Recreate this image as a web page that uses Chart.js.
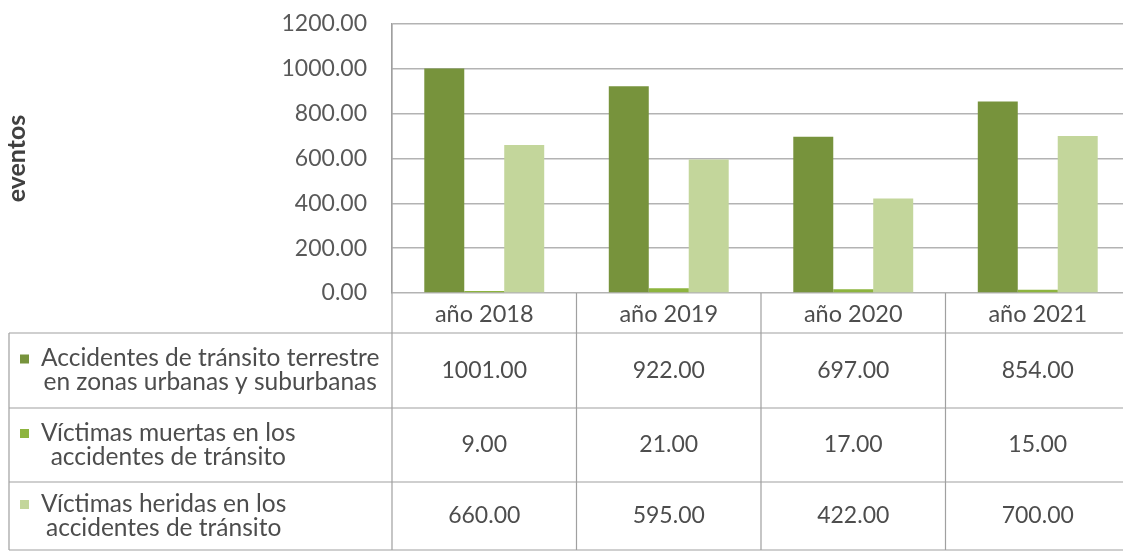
<!DOCTYPE html>
<html>
<head>
<meta charset="utf-8">
<script src="https://cdn.jsdelivr.net/npm/chart.js@4.4.0/dist/chart.umd.min.js"></script>
<style>
  html, body { margin: 0; padding: 0; background: #fff; overflow: hidden; }
  #wrap { width: 1135px; height: 552px; }
</style>
</head>
<body>
<div id="wrap"><canvas id="myChart"></canvas></div>
<script>
// categories
const years = ['año 2018', 'año 2019', 'año 2020', 'año 2021'];
// series (legend text, split the same way as in the table)
const nameAccidentes = ['Accidentes de tránsito terrestre', 'en zonas urbanas y suburbanas'];
const nameMuertas = ['Víctimas muertas en los', 'accidentes de tránsito'];
const nameHeridas = ['Víctimas heridas en los', 'accidentes de tránsito'];
const accidentes = [1001, 922, 697, 854];
const muertas = [9, 21, 17, 15];
const heridas = [660, 595, 422, 700];
// y axis
const yMin = 0, yMax = 1200, yStep = 200;
const yTitle = 'eventos';

const colors = ['#77933c', '#8db43e', '#c3d69b'];
const FONT = 'Lato, "Open Sans", sans-serif';
const textColor = '#4d4d4d';
const lineColor = '#a0a0a0';

// data table under the plot, drawn from the x scale
const tablePlugin = {
  id: 'dataTable',
  afterDraw(chart) {
    const ctx = chart.ctx;
    const x = chart.scales.x;
    const area = chart.chartArea;
    const n = years.length;
    const catW = (x.right - x.left) / n;
    const tableLeft = 9;
    const headerBottom = area.bottom + 40;
    const rowH = [75, 74, 68];
    const rows = chart.data.datasets;

    ctx.save();
    ctx.strokeStyle = lineColor;
    ctx.lineWidth = 1.2;

    // row boundaries
    let yy = headerBottom;
    const rowTops = [];
    for (let r = 0; r < rows.length; r++) {
      rowTops.push(yy);
      ctx.beginPath();
      ctx.moveTo(tableLeft, yy);
      ctx.lineTo(x.right, yy);
      ctx.stroke();
      yy += rowH[r];
    }
    const tableBottom = yy;
    ctx.beginPath();
    ctx.moveTo(tableLeft, tableBottom);
    ctx.lineTo(x.right, tableBottom);
    ctx.stroke();

    // column boundaries
    ctx.beginPath();
    ctx.moveTo(tableLeft, headerBottom);
    ctx.lineTo(tableLeft, tableBottom);
    for (let i = 0; i <= n; i++) {
      const bx = x.getPixelForValue(i) - catW / 2;
      ctx.moveTo(bx, i === 0 ? area.top : area.bottom);
      ctx.lineTo(bx, tableBottom);
    }
    ctx.stroke();

    ctx.fillStyle = textColor;
    ctx.textAlign = 'center';
    ctx.textBaseline = 'middle';

    // header
    ctx.font = '23.5px ' + FONT;
    years.forEach((lab, i) => {
      ctx.fillText(lab, x.getPixelForValue(i), (area.bottom + headerBottom) / 2 + 1);
    });

    // rows
    rows.forEach((ds, r) => {
      const cy = rowTops[r] + rowH[r] / 2;
      ctx.font = '23px ' + FONT;
      ds.data.forEach((v, i) => {
        ctx.fillStyle = textColor;
        ctx.fillText(v.toFixed(2), x.getPixelForValue(i), cy);
      });
      ctx.font = '24.5px ' + FONT;
      const lines = ds.tableLabel;
      const textLeft = 41;
      const w0 = ctx.measureText(lines[0]).width;
      const cx = textLeft + w0 / 2;
      lines.forEach((ln, k) => {
        ctx.fillStyle = textColor;
        ctx.fillText(ln, cx, cy + (k - (lines.length - 1) / 2) * 24);
      });
      ctx.fillStyle = ds.backgroundColor;
      ctx.fillRect(textLeft - 21, cy - 12 - 4, 9, 9);
    });
    ctx.restore();
  }
};

const ctx = document.getElementById('myChart').getContext('2d');
const chart = new Chart(ctx, {
  type: 'bar',
  data: {
    labels: years,
    datasets: [
      { label: nameAccidentes.join(' '), tableLabel: nameAccidentes, data: accidentes, backgroundColor: colors[0] },
      { label: nameMuertas.join(' '), tableLabel: nameMuertas, data: muertas, backgroundColor: colors[1] },
      { label: nameHeridas.join(' '), tableLabel: nameHeridas, data: heridas, backgroundColor: colors[2] }
    ]
  },
  options: {
    responsive: true,
    maintainAspectRatio: false,
    animation: false,
    layout: { padding: { left: 0, top: 24, right: 5, bottom: 259 } },
    datasets: { bar: { barPercentage: 1.0, categoryPercentage: 0.65 } },
    plugins: { legend: { display: false }, tooltip: { enabled: false } },
    scales: {
      x: { display: false },
      y: {
        min: yMin,
        max: yMax,
        afterFit(scale) {
          scale.width = 392;
          scale.paddingTop = 0;
          scale.paddingBottom = 0;
        },
        ticks: {
          stepSize: yStep,
          padding: 25,
          color: '#595959',
          font: { family: FONT, size: 23 },
          callback: v => Number(v).toFixed(2)
        },
        grid: { color: '#b3b3b3', lineWidth: 1.5, drawTicks: false },
        border: { display: true, color: lineColor, width: 1.2 },
        title: {
          display: true,
          text: yTitle,
          color: '#404040',
          font: { family: FONT, size: 25, weight: 'bold' },
          padding: { top: 2, bottom: 0 }
        }
      }
    }
  },
  plugins: [tablePlugin]
});
</script>
</body>
</html>
